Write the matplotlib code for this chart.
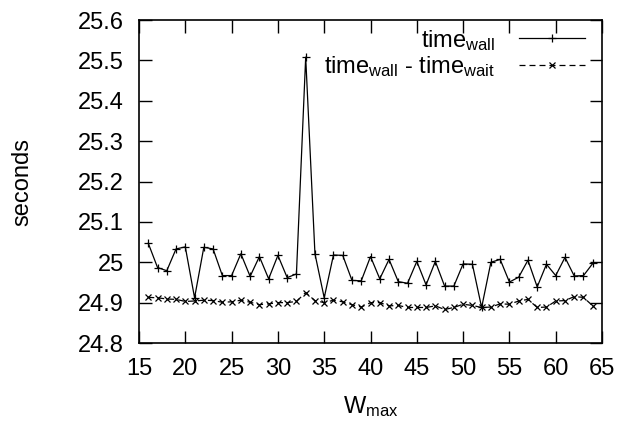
import matplotlib
matplotlib.use("Agg")
import matplotlib.pyplot as plt

plt.rcParams['font.family'] = ['Liberation Sans', 'DejaVu Sans']
plt.rcParams['mathtext.fontset'] = 'custom'
plt.rcParams['mathtext.rm'] = 'Liberation Sans'
plt.rcParams['mathtext.default'] = 'regular'

w_max = list(range(16, 65))

time_wall = [
    25.047, 24.987, 24.979, 25.033, 25.038, 24.912, 25.037, 25.033, 24.967, 24.967,
    25.021, 24.965, 25.014, 24.959, 25.017, 24.962, 24.971, 25.508, 25.021, 24.912,
    25.018, 25.017, 24.955, 24.954, 25.014, 24.959, 25.007, 24.952, 24.948, 25.002,
    24.944, 25.002, 24.941, 24.941, 24.996, 24.995, 24.888, 25.000, 25.007, 24.951,
    24.963, 25.005, 24.939, 24.995, 24.967, 25.012, 24.966, 24.967, 24.997,
]

time_minus_wait = [
    24.913, 24.912, 24.909, 24.908, 24.903, 24.904, 24.906, 24.905, 24.901, 24.902,
    24.906, 24.901, 24.895, 24.897, 24.900, 24.900, 24.903, 24.925, 24.905, 24.900,
    24.906, 24.902, 24.895, 24.889, 24.900, 24.900, 24.892, 24.893, 24.888, 24.888,
    24.888, 24.892, 24.883, 24.888, 24.896, 24.893, 24.888, 24.889, 24.897, 24.896,
    24.904, 24.908, 24.888, 24.889, 24.904, 24.905, 24.915, 24.913, 24.892,
]

fig = plt.figure(figsize=(6.2, 4.22), dpi=100)
ax = fig.add_axes([0.2242, 0.1872, 0.971 - 0.2242, 0.9526 - 0.1872])

ax.plot(w_max, time_wall, color='black', lw=0.9, marker='+', ms=6, mew=0.9,
        label='time$_{wall}$')
ax.plot(w_max, time_minus_wait, color='black', lw=0.9, ls=(0, (4.8, 3.2)),
        marker='x', ms=4.5, mew=0.9, label='time$_{wall}$ - time$_{wait}$')

ax.set_xlim(15, 65)
ax.set_ylim(24.8, 25.6)
ax.set_xticks(range(15, 66, 5))
ax.set_yticks([24.8, 24.9, 25.0, 25.1, 25.2, 25.3, 25.4, 25.5, 25.6])
ax.set_yticklabels(['24.8', '24.9', '25', '25.1', '25.2', '25.3', '25.4', '25.5', '25.6'])
ax.tick_params(direction='in', length=9, width=1, labelsize=17, pad=11,
               top=True, right=True)
for s in ax.spines.values():
    s.set_linewidth(1.2)

ax.set_xlabel('W$_{max}$', fontsize=17, labelpad=10)
ax.set_ylabel('seconds', fontsize=17, labelpad=32)

ax.legend(loc='upper right', bbox_to_anchor=(0.993, 1.02), frameon=False,
          markerfirst=False, fontsize=17, handlelength=2.8, handletextpad=1.0,
          labelspacing=0.05, borderaxespad=0.2)

fig.savefig('out.png', dpi=100)
